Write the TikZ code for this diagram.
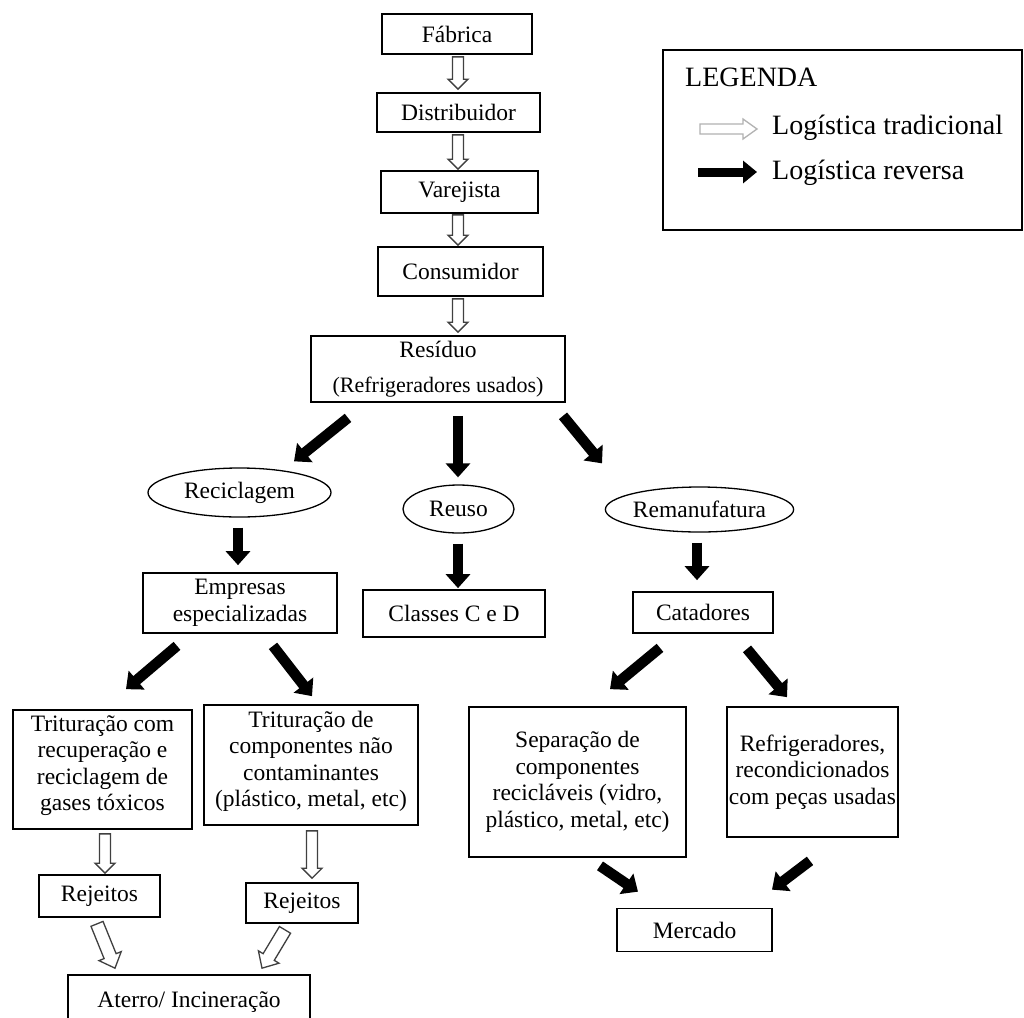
\documentclass[tikz,border=0pt]{standalone}
\usepackage{fontspec}
\setmainfont{Liberation Serif}
\usetikzlibrary{arrows.meta,calc,shapes.geometric}
\def\hs{5.5pt}\def\hh{10pt}\def\hl{10pt}
\tikzset{
  base/.style={font=\fontsize{23.5}{26.5}\selectfont},
  box/.style={draw, line width=1.7pt, align=center, inner sep=2pt},
  oval/.style={draw, ellipse, line width=1.3pt, inner sep=0pt, align=center},
  rev/.style={line width=10.5pt, -{Triangle[width=24pt,length=14pt]}},
  hollowsmall/.style={/utils/exec={\def\hs{5.5pt}\def\hh{10pt}\def\hl{10pt}}},
  hollowbig/.style={/utils/exec={\def\hs{6.5pt}\def\hh{12pt}\def\hl{13pt}}},
  hollowleg/.style={/utils/exec={\def\hs{5pt}\def\hh{10pt}\def\hl{14pt}}},
  hollow/.style={draw=black!75, line width=1.3pt, fill=white, line join=miter,
    to path={let \p1=(\tikztostart), \p2=(\tikztotarget), \p3=($(\p2)!\hl!(\p1)$) in
      ($(\p1)!\hs!90:(\p2)$) -- ($(\p3)!\hs!-90:(\p1)$) -- ($(\p3)!\hh!-90:(\p1)$)
      -- (\p2) -- ($(\p3)!\hh!90:(\p1)$) -- ($(\p3)!\hs!90:(\p1)$)
      -- ($(\p1)!\hs!-90:(\p2)$) -- cycle}},
}
\begin{document}
\begin{tikzpicture}[x=1pt,y=-1pt,base]
\clip (0,0) rectangle (1024,1017);
\fill[white] (0,0) rectangle (1024,1017);

% main chain
\node[box, minimum width=150, minimum height=40] (fab) at (457,34) {Fábrica};
\node[box, minimum width=163, minimum height=39] (dist) at (458.5,112.5) {Distribuidor};
\node[box, minimum width=157, minimum height=42] (varej) at (459.5,192) {Varejista};
\node[box, minimum width=165, minimum height=49] (cons) at (460.5,271.5) {Consumidor};
\node[box, minimum width=254, minimum height=66] (resid) at (438,369)
  {Resíduo\\[8pt]{\fontsize{22}{24}\selectfont(Refrigeradores usados)}};

% second level
\node[oval, minimum width=183, minimum height=49] (recic) at (239.5,492.5) {Reciclagem};
\node[oval, minimum width=111, minimum height=48] (reuso) at (458.5,509) {Reuso};
\node[oval, minimum width=185, minimum height=45] (reman) at (699.5,509.5) {Remanufatura};

\node[box, minimum width=194, minimum height=60] (empr) at (240,603) {Empresas\\especializadas};
\node[box, minimum width=182, minimum height=47] (classes) at (454,613.5) {Classes C e D};
\node[box, minimum width=140, minimum height=41] (catad) at (703,612.5) {Catadores};

\node[box, minimum width=179, minimum height=119] (trit1) at (102.5,769.5)
  {Trituração com\\recuperação e\\reciclagem de\\gases tóxicos\\[-14pt]\mbox{}};
\node[box, minimum width=214, minimum height=120] (trit2) at (311,765)
  {Trituração de\\componentes não\\contaminantes\\(plástico, metal, etc)\\[-14pt]\mbox{}};
\node[box, minimum width=121, minimum height=42] (rej1) at (99.5,896) {Rejeitos};
\node[box, minimum width=112, minimum height=40] (rej2) at (302,903) {Rejeitos};
\node[box, minimum width=242, minimum height=54] (aterro) at (189,1002) {Aterro/ Incineração};

\node[box, minimum width=217, minimum height=150] (sep) at (577.5,782)
  {Separação de\\componentes\\recicláveis (vidro,\\plástico, metal, etc)};
\node[box, minimum width=171, minimum height=130] (refr) at (812.5,772)
  {Refrigeradores,\\recondicionados\\com peças usadas};
\node[box, minimum width=155, minimum height=43] (merc) at (694.5,930) {Mercado};

% legend
\node[draw, line width=2pt, minimum width=359, minimum height=180] (leg) at (842.5,140) {};
\node[anchor=west, inner sep=0pt, font=\fontsize{28}{32}\selectfont] (legt) at (685,77) {LEGENDA};
\node[anchor=west, inner sep=0pt, font=\fontsize{28}{32}\selectfont] (lt) at (772,128) {Logística tradicional};
\node[anchor=west, inner sep=0pt, font=\fontsize{28}{32}\selectfont] (lr) at (772,173) {Logística reversa};
\draw[hollowleg, hollow, draw=black!30] ([shift={(-72,1)}]lt.west) to ([shift={(-15,1)}]lt.west);
\draw[rev, -{Triangle[width=22pt,length=14pt]}, line width=9pt] ([shift={(-74,-1)}]lr.west) -- ([shift={(-15,-1)}]lr.west);

% hollow arrows (traditional)
\draw[hollowsmall, hollow] ([shift={(1,2)}]fab.south) to ([shift={(-0.5,-3)}]dist.north);
\draw[hollowsmall, hollow] ([shift={(-0.5,2)}]dist.south) to ([shift={(-1.5,-1)}]varej.north);
\draw[hollowsmall, hollow] ([shift={(-1.5,1)}]varej.south) to ([shift={(-2.5,-1)}]cons.north);
\draw[hollowsmall, hollow] ([shift={(-2.5,2)}]cons.south) to ([shift={(20,-3)}]resid.north);
\draw[hollowsmall, hollow] ([shift={(2.5,4)}]trit1.south) to ([shift={(5.5,-1)}]rej1.north);
\draw[hollowsmall, hollow] ([shift={(1,5)}]trit2.south) to ([shift={(10,-4)}]rej2.north);
\draw[hollowbig, hollow] ([shift={(-2.5,6)}]rej1.south) to ([shift={(-74,-6)}]aterro.north);
\draw[hollowbig, hollow] ([shift={(-17,6)}]rej2.south) to ([shift={(73,-6)}]aterro.north);

% black arrows (reverse)
\draw[rev] ([shift={(-90,15)}]resid.south) -- ([shift={(54.5,-6)}]recic.north);
\draw[rev] ([shift={(20,13)}]resid.south) -- ([shift={(-0.5,-7)}]reuso.north);
\draw[rev] ([shift={(125,13)}]resid.south) -- ([shift={(-97.5,-23)}]reman.north);
\draw[rev] ([shift={(-1.5,10)}]recic.south) -- ([shift={(-2,-7)}]empr.north);
\draw[rev] ([shift={(-0.5,10)}]reuso.south) -- ([shift={(4,-1)}]classes.north);
\draw[rev] ([shift={(-2.5,10)}]reman.south) -- ([shift={(-6,-11)}]catad.north);
\draw[rev] ([shift={(-63,12)}]empr.south) -- ([shift={(23.5,-20)}]trit1.north);
\draw[rev] ([shift={(33,12)}]empr.south) -- ([shift={(1,-8)}]trit2.north);
\draw[rev] ([shift={(-43,14)}]catad.south) -- ([shift={(32.5,-17)}]sep.north);
\draw[rev] ([shift={(44,15)}]catad.south) -- ([shift={(-25.5,-9)}]refr.north);
\draw[rev] ([shift={(22.5,8)}]sep.south) -- ([shift={(-56.5,-16)}]merc.north);
\draw[rev] ([shift={(-2.5,23)}]refr.south) -- ([shift={(77.5,-18)}]merc.north);
\end{tikzpicture}
\end{document}
